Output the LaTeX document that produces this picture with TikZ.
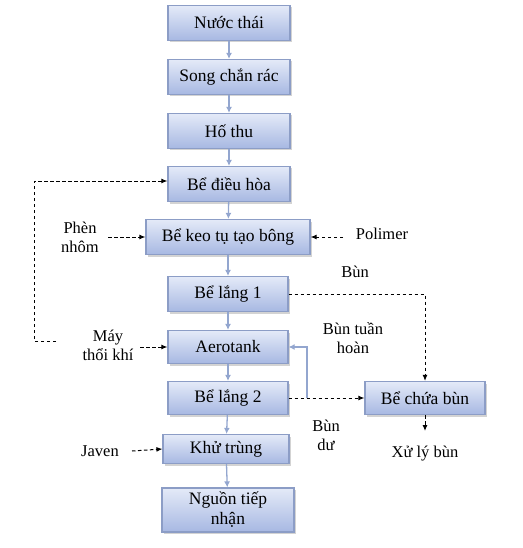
\documentclass[tikz,border=0pt]{standalone}
\usepackage{fontspec}
\setmainfont{Liberation Serif}
\usetikzlibrary{arrows.meta,shadows,calc}
\definecolor{boxborder}{HTML}{8C9DC6}
\definecolor{boxtop}{HTML}{E4EAF8}
\definecolor{boxbot}{HTML}{A7B8E2}
\definecolor{flowc}{HTML}{93A6CF}
\tikzset{
  procbox/.style={rectangle, draw=boxborder, line width=1.2pt, top color=boxtop, bottom color=boxbot,
     minimum width=122pt, minimum height=35pt, align=center, inner sep=2pt,
     font=\fontsize{17.5}{19}\selectfont,
     drop shadow={opacity=0.35, shadow xshift=2pt, shadow yshift=-2pt}},
  lbl/.style={align=center, inner sep=1pt, font=\fontsize{16.5}{19}\selectfont},
  flow/.style={draw=flowc, line width=1.3pt, -{Latex[length=6pt,width=6pt]}},
  dasharrow/.style={draw=black, line width=1pt, dash pattern=on 3.5pt off 2.5pt, -{Latex[length=6pt,width=5pt]}},
}
\begin{document}
\begin{tikzpicture}[x=1pt,y=-1pt]
\useasboundingbox (0,0) rectangle (522,548);
% main boxes
\node[procbox] (nt) at (229,23) {Nước thái};
\node[procbox] (scr) at (229,77) {Song chắn rác};
\node[procbox] (ht) at (229,131) {Hố thu};
\node[procbox] (dh) at (229,184) {Bể điều hòa};
\node[procbox, minimum width=164pt] (kt) at (228,237) {Bể keo tụ tạo bông};
\node[procbox, minimum width=120pt] (l1) at (228,294) {Bể lắng 1};
\node[procbox, minimum width=120pt, minimum height=33pt] (ae) at (228,347) {Aerotank};
\node[procbox, minimum width=120pt, minimum height=33pt] (l2) at (228,398) {Bể lắng 2};
\node[procbox, minimum width=120pt, minimum height=33pt] (cb) at (425,398) {Bể chứa bùn};
\node[procbox, minimum width=126pt, minimum height=29pt] (kh) at (226,449) {Khử trùng};
\node[procbox, minimum width=132pt, minimum height=44pt, font=\fontsize{17.5}{20}\selectfont] (ng) at (228,510) {Nguồn tiếp\\nhận};
% labels
\node[lbl] (pn) at (80,237) {Phèn\\nhôm};
\node[lbl] (po) at (382,234) {Polimer};
\node[lbl] (bun) at (355,272) {Bùn};
\node[lbl] (btn) at (353,338) {Bùn tuần\\hoàn};
\node[lbl] (mtk) at (108,345) {Máy\\thổi khí};
\node[lbl] (bd) at (326,435) {Bùn\\dư};
\node[lbl] (jv) at (100,451) {Javen};
\node[lbl] (xl) at (425,454) {Xử lý bùn};
% main flow
\draw[flow] (nt) -- (scr);
\draw[flow] (scr) -- (ht);
\draw[flow] (ht) -- (dh);
\draw[flow] (dh) -- (kt);
\draw[flow] (kt) -- (l1);
\draw[flow] (l1) -- (ae);
\draw[flow] (ae) -- (l2);
\draw[flow] (l2) -- (kh);
\draw[flow] (kh) -- (ng);
% recycle
\coordinate (rc) at (307,398);
\draw[flow] (rc) |- (ae.east);
% dashed inputs
\draw[dasharrow] (108,237) -- (kt.west);
\draw[dasharrow] (343,237) -- (kt.east);
\draw[dasharrow] (140,347) -- (ae.west);
\draw[dasharrow] (132,451) -- (kh.west);
% loop
\coordinate (lp) at (56,341);
\draw[dasharrow] (lp) -- (34,341) -- (34,181) -- (dh.west |- 0,181);
% sludge
\draw[dasharrow] (l1.east) -| (cb.north);
\draw[dasharrow] (l2.east) -- (cb.west);
\draw[dasharrow] (cb.south) -- (425,431);
\end{tikzpicture}
\end{document}
